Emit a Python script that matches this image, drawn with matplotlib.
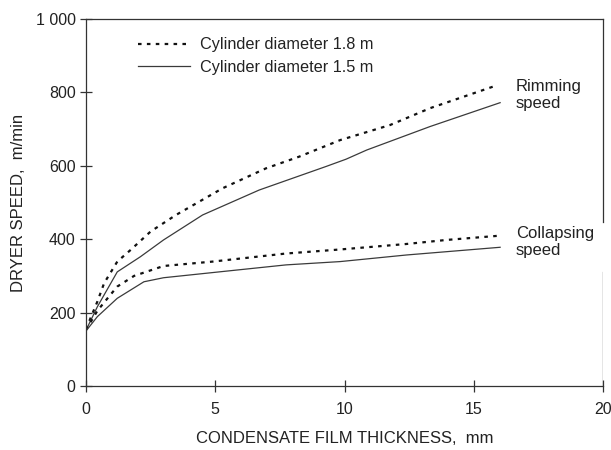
import matplotlib.pyplot as plt
import numpy as np

plt.rcParams["font.family"] = ["Liberation Sans", "DejaVu Sans"]

# Rimming speed, cylinder diameter 1.8 m (dotted)
rim_18_x = [0, 0.44, 0.7, 1.21, 1.73, 2.5, 3.48, 5.29, 6.96, 8.25, 9.83, 11.76, 13.31, 15.8]
rim_18_y = [155, 230, 280, 339, 371, 421, 466, 539, 593, 625, 670, 711, 757, 817]
# Rimming speed, cylinder diameter 1.5 m (solid)
rim_15_x = [0, 0.44, 1.21, 2.1, 3.0, 4.51, 6.7, 9.28, 10.06, 10.86, 13.31, 16.02]
rim_15_y = [152, 216, 311, 352, 398, 466, 534, 598, 618, 643, 707, 772]
# Collapsing speed, 1.8 m (dotted)
col_18_x = [0, 0.44, 0.88, 1.21, 1.86, 3.0, 4.9, 7.74, 9.83, 12.4, 13.95, 15.9]
col_18_y = [153, 205, 243, 271, 300, 327, 339, 361, 372, 387, 398, 409]
# Collapsing speed, 1.5 m (solid)
col_15_x = [0, 0.44, 1.21, 2.24, 3.0, 5.16, 7.74, 9.83, 12.4, 16.02]
col_15_y = [150, 189, 239, 284, 295, 311, 330, 339, 357, 378]

x_ticks = [0, 5, 10, 15, 20]
y_ticks = [0, 200, 400, 600, 800, 1000]
y_tick_labels = ["0", "200", "400", "600", "800", "1 000"]

dot_style = (0, (1.6, 2.4))
dot_color = "#111111"
solid_color = "#3a3a3a"
spine_color = "#333333"
text_color = "#222222"

fig = plt.figure(figsize=(6.11, 4.5), dpi=100)
ax = fig.add_axes((86 / 611, 1 - 386 / 450, 517 / 611, 367 / 450))

ax.plot(rim_18_x, rim_18_y, ls=dot_style, lw=1.6, color=dot_color,
        label="Cylinder diameter 1.8 m")
ax.plot(rim_15_x, rim_15_y, ls="-", lw=0.9, color=solid_color,
        label="Cylinder diameter 1.5 m")
ax.plot(col_18_x, col_18_y, ls=dot_style, lw=1.6, color=dot_color)
ax.plot(col_15_x, col_15_y, ls="-", lw=0.9, color=solid_color)

ax.set_xlim(0, 20)
ax.set_ylim(0, 1000)
ax.set_xticks(x_ticks)
ax.set_yticks(y_ticks)
ax.set_yticklabels(y_tick_labels)
ax.tick_params(direction="inout", length=9, width=0.9, color=spine_color,
               labelsize=11.5, labelcolor=text_color)
ax.tick_params(axis="x", pad=7)
ax.tick_params(axis="y", pad=3)

for side in ["left", "bottom", "top", "right"]:
    ax.spines[side].set_color(spine_color)
    ax.spines[side].set_linewidth(0.9)
# gap in the right frame beside the collapsing label
ax.spines["right"].set_bounds(447, 1000)
ax.axvline(20, ymin=0, ymax=0.311, color=spine_color, lw=0.9)

ax.set_xlabel("CONDENSATE FILM THICKNESS,  mm", fontsize=12, color=text_color,
              labelpad=10)
ax.set_ylabel("DRYER SPEED,  m/min", fontsize=12, color=text_color, labelpad=7)

ax.text(16.63, 793, "Rimming\nspeed", fontsize=12, color=text_color,
        va="center", ha="left", linespacing=1.2)
ax.text(16.63, 392, "Collapsing\nspeed", fontsize=12, color=text_color,
        va="center", ha="left", linespacing=1.2)

leg = ax.legend(loc="upper left", bbox_to_anchor=(0.1006, 0.95), frameon=False,
                fontsize=11.7, handlelength=3.2, handletextpad=0.62,
                labelspacing=0.48, borderpad=0, borderaxespad=0)
for t in leg.get_texts():
    t.set_color(text_color)

fig.savefig("out.png", dpi=100)
